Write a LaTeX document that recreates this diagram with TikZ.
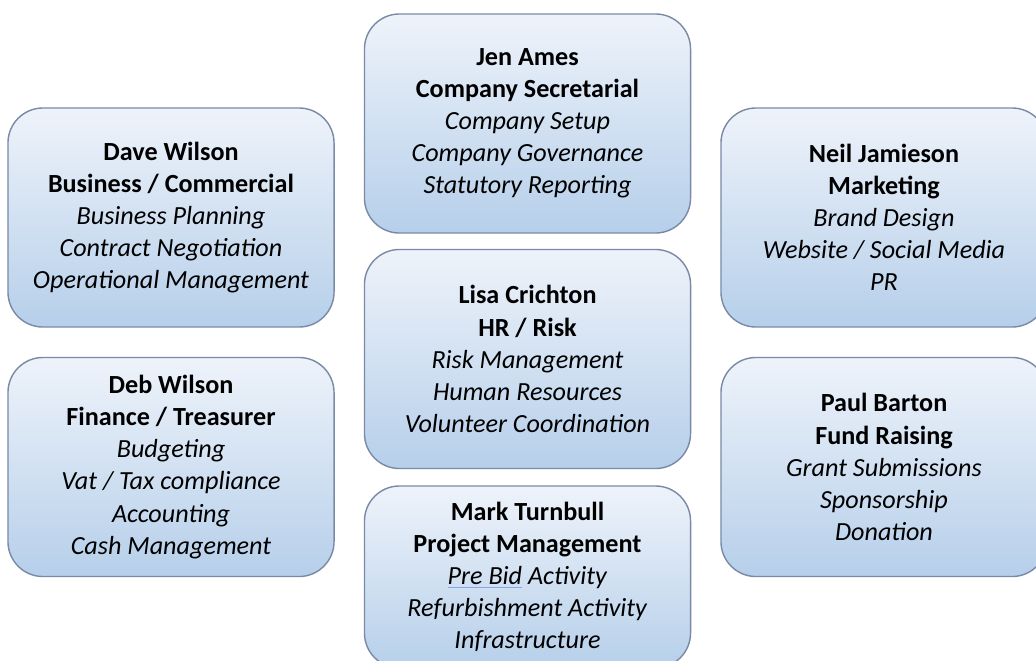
\documentclass[tikz,border=0pt]{standalone}
\usepackage{fontspec}
\setmainfont{Carlito}
\usepackage{xcolor}
\usepackage{tikz}
\definecolor{cardtop}{HTML}{EEF3FA}
\definecolor{cardbottom}{HTML}{B6CFEA}
\definecolor{cardline}{HTML}{7A8AA6}
\definecolor{spellblue}{HTML}{8AA6E6}
\tikzset{
    every node/.style={font=\fontsize{18.6}{22.8}\selectfont},
    card/.style={draw=cardline, line width=1pt, rounded corners=0.875cm,
        top color=cardtop, bottom color=cardbottom, align=center,
        minimum width=8.15cm, minimum height=5.475cm, inner sep=0pt}
}

\begin{document}
\begin{tikzpicture}[x=0.025cm, y=-0.025cm]
        \useasboundingbox (0,0) rectangle (1036,660);
        \clip (0,0) rectangle (1036,660);
        % left column
        \node[card] (dave) at (171,217.5) {\textbf{Dave Wilson}\\\textbf{Business / Commercial}\\\textit{Business Planning}\\\textit{Contract Negotiation}\\\textit{Operational Management}};
        \node[card] (deb) at (171,467) {\textbf{Deb Wilson}\\\textbf{Finance / Treasurer}\\\textit{Budgeting}\\\textit{Vat / Tax compliance}\\\textit{Accounting}\\\textit{Cash Management}};
        % middle column
        \node[card] (jen) at (527.5,123.5) {\textbf{Jen Ames}\\\textbf{Company Secretarial}\\\textit{Company Setup}\\\textit{Company Governance}\\\textit{Statutory Reporting}};
        \node[card] (lisa) at (527.5,359) {\textbf{Lisa Crichton}\\\textbf{HR / Risk}\\\textit{Risk Management}\\\textit{Human Resources}\\\textit{Volunteer Coordination}};
        \node[card, minimum height=4.55cm] (mark) at (527.5,577) {\textbf{Mark Turnbull}\\\textbf{Project Management}\\\textit{{\color{spellblue}\underline{\color{black}Pre Bid}} Activity}\\\textit{Refurbishment Activity}\\\textit{Infrastructure}};
        % right column
        \node[card] (neil) at (884,217.5) {\textbf{Neil Jamieson}\\\textbf{Marketing}\\\textit{Brand Design}\\\textit{Website / Social Media}\\\textit{PR}};
        \node[card] (paul) at (884,467) {\textbf{Paul Barton}\\\textbf{Fund Raising}\\\textit{Grant Submissions}\\\textit{Sponsorship}\\\textit{Donation}};
    \end{tikzpicture}
\end{document}
